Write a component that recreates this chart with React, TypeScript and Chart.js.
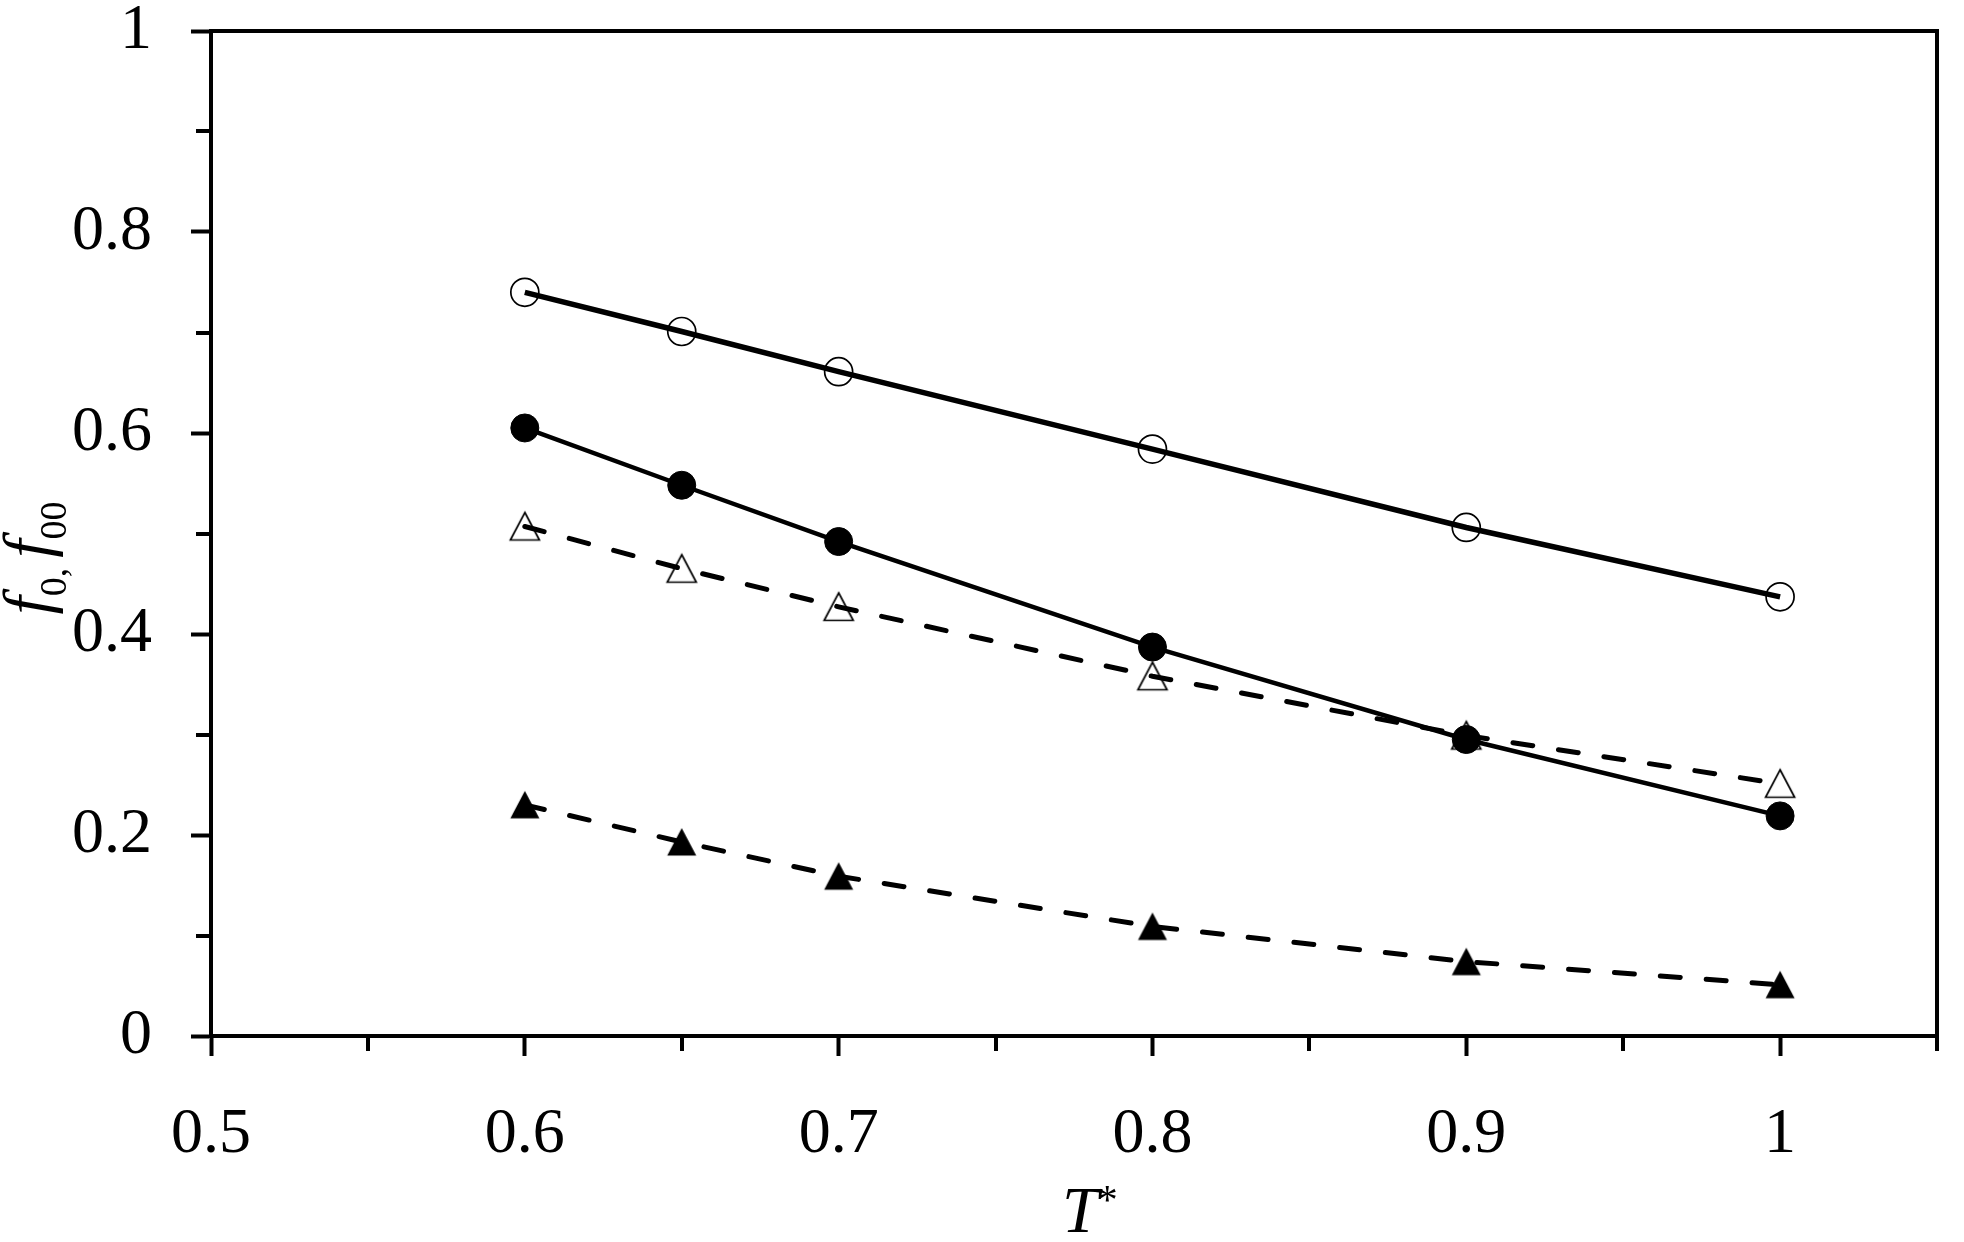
import React, { useEffect, useRef } from "react";
import { Chart, registerables } from "chart.js";

Chart.register(...registerables);

// ---- data ----
const temperatures = [0.6, 0.65, 0.7, 0.8, 0.9, 1.0];
const seriesOpenCircle = [0.74, 0.701, 0.661, 0.584, 0.506, 0.437];
const seriesFilledCircle = [0.605, 0.548, 0.492, 0.387, 0.295, 0.219];
const seriesOpenTriangle = [0.507, 0.465, 0.427, 0.358, 0.299, 0.251];
const seriesFilledTriangle = [0.23, 0.193, 0.159, 0.109, 0.074, 0.051];

const xTickValues = [0.5, 0.6, 0.7, 0.8, 0.9, 1.0];
const xTickLabels = ["0.5", "0.6", "0.7", "0.8", "0.9", "1"];
const xMinorTicks = [0.55, 0.65, 0.75, 0.85, 0.95, 1.05];
const yTickValues = [0, 0.2, 0.4, 0.6, 0.8, 1];
const yTickLabels = ["0", "0.2", "0.4", "0.6", "0.8", "1"];
const yMinorTicks = [0.1, 0.3, 0.5, 0.7, 0.9];

const FONT = "'Liberation Serif', 'Times New Roman', serif";

function makeTriangle(filled: boolean): HTMLCanvasElement {
  const c = document.createElement("canvas");
  c.width = 34;
  c.height = 34;
  const g = c.getContext("2d")!;
  g.beginPath();
  g.moveTo(17, 3);
  g.lineTo(31.5, 30.5);
  g.lineTo(2.5, 30.5);
  g.closePath();
  if (filled) {
    g.fillStyle = "#000";
    g.fill();
  } else {
    g.lineWidth = 1.7;
    g.strokeStyle = "#000";
    g.lineJoin = "miter";
    g.stroke();
  }
  return c;
}

const decorPlugin = {
  id: "decor",
  afterDraw(chart: any) {
    const { ctx, chartArea, scales } = chart;
    const xs = scales.x;
    const ys = scales.y;
    ctx.save();
    ctx.strokeStyle = "#000";
    ctx.lineWidth = 4;
    ctx.lineCap = "butt";
    ctx.lineJoin = "miter";
    // top and right border
    ctx.beginPath();
    ctx.moveTo(chartArea.left - 2, chartArea.top);
    ctx.lineTo(chartArea.right, chartArea.top);
    ctx.lineTo(chartArea.right, chartArea.bottom);
    ctx.stroke();
    // minor ticks
    ctx.beginPath();
    for (const v of xMinorTicks) {
      const px = Math.round(xs.getPixelForValue(v));
      ctx.moveTo(px, chartArea.bottom);
      ctx.lineTo(px, chartArea.bottom + 15);
    }
    for (const v of yMinorTicks) {
      const py = Math.round(ys.getPixelForValue(v));
      ctx.moveTo(chartArea.left, py);
      ctx.lineTo(chartArea.left - 15, py);
    }
    ctx.stroke();

    // x title: T*
    ctx.fillStyle = "#000";
    ctx.textBaseline = "alphabetic";
    ctx.textAlign = "left";
    ctx.font = `italic 66px ${FONT}`;
    const tx = 1062;
    ctx.fillText("T", tx, 1232);
    const tw = ctx.measureText("T").width;
    ctx.font = `42px ${FONT}`;
    ctx.fillText("*", tx + tw - 2, 1214);

    // y title: f0, f00 (rotated)
    const parts = [
      { t: "f", f: `italic 66px ${FONT}`, dy: 0, adv: 0 },
      { t: "0", f: `38px ${FONT}`, dy: 17, adv: 0 },
      { t: ",", f: `38px ${FONT}`, dy: 17, adv: 10 },
      { t: "f", f: `italic 66px ${FONT}`, dy: 0, adv: 0 },
      { t: "00", f: `38px ${FONT}`, dy: 17, adv: 0 },
    ];
    let total = 0;
    const widths: number[] = [];
    for (const p of parts) {
      ctx.font = p.f;
      const w = ctx.measureText(p.t).width + p.adv;
      widths.push(w);
      total += w;
    }
    ctx.save();
    ctx.translate(49, 558);
    ctx.rotate(-Math.PI / 2);
    let cx = -total / 2;
    parts.forEach((p, i) => {
      ctx.font = p.f;
      ctx.fillText(p.t, cx, p.dy);
      cx += widths[i];
    });
    ctx.restore();
    ctx.restore();
  },
};

export default function App() {
  const canvasRef = useRef<HTMLCanvasElement | null>(null);

  useEffect(() => {
    const canvas = canvasRef.current;
    if (!canvas) return;
    const openTri = makeTriangle(false);
    const filledTri = makeTriangle(true);
    const toPts = (ys: number[]) => temperatures.map((x, i) => ({ x, y: ys[i] }));

    const chart = new Chart(canvas, {
      type: "scatter",
      data: {
        datasets: [
          {
            label: "f0 open",
            data: toPts(seriesOpenCircle),
            showLine: true,
            borderColor: "#000",
            borderWidth: 5.5,
            pointStyle: "circle",
            pointRadius: 14,
            pointBorderWidth: 1.7,
            pointBorderColor: "#000",
            pointBackgroundColor: "rgba(0,0,0,0)",
          },
          {
            label: "f0 filled",
            data: toPts(seriesFilledCircle),
            showLine: true,
            borderColor: "#000",
            borderWidth: 4.5,
            pointStyle: "circle",
            pointRadius: 14,
            pointBorderWidth: 1,
            pointBorderColor: "#000",
            pointBackgroundColor: "#000",
          },
          {
            label: "f00 open",
            data: toPts(seriesOpenTriangle),
            showLine: true,
            borderColor: "#000",
            borderWidth: 5,
            borderDash: [20, 26],
            borderCapStyle: "round",
            pointStyle: openTri,
            pointRadius: 14,
          },
          {
            label: "f00 filled",
            data: toPts(seriesFilledTriangle),
            showLine: true,
            borderColor: "#000",
            borderWidth: 5,
            borderDash: [20, 26],
            borderCapStyle: "round",
            pointStyle: filledTri,
            pointRadius: 14,
          },
        ],
      },
      options: {
        responsive: false,
        animation: false,
        devicePixelRatio: 1,
        layout: { padding: { top: 31, right: 27, left: 0, bottom: 0 } },
        plugins: {
          legend: { display: false },
          tooltip: { enabled: false },
          title: { display: false },
        },
        elements: { line: { tension: 0 } },
        scales: {
          x: {
            type: "linear",
            min: 0.5,
            max: 1.05,
            afterBuildTicks: (s: any) => {
              s.ticks = xTickValues.map((v) => ({ value: v }));
            },
            afterFit: (s: any) => {
              s.height = 206;
              s.paddingLeft = 0;
              s.paddingRight = 0;
            },
            ticks: {
              autoSkip: false,
              maxRotation: 0,
              color: "#000",
              padding: 41,
              font: { family: FONT, size: 64 },
              callback: (_v: any, i: number) => xTickLabels[i],
            },
            grid: {
              drawOnChartArea: false,
              drawTicks: true,
              tickLength: 20,
              tickWidth: 4,
              tickColor: "#000",
            },
            border: { display: true, color: "#000", width: 4 },
          },
          y: {
            type: "linear",
            min: 0,
            max: 1,
            afterBuildTicks: (s: any) => {
              s.ticks = yTickValues.map((v) => ({ value: v }));
            },
            afterFit: (s: any) => {
              s.width = 211;
              s.paddingTop = 0;
              s.paddingBottom = 0;
            },
            ticks: {
              autoSkip: false,
              color: "#000",
              padding: 39,
              font: { family: FONT, size: 64 },
              callback: (_v: any, i: number) => yTickLabels[i],
            },
            grid: {
              drawOnChartArea: false,
              drawTicks: true,
              tickLength: 20,
              tickWidth: 4,
              tickColor: "#000",
            },
            border: { display: true, color: "#000", width: 4 },
          },
        },
      },
      plugins: [decorPlugin],
    } as any);

    return () => chart.destroy();
  }, []);

  return (
    <div style={{ position: "fixed", left: 0, top: 0, width: 1964, height: 1242, background: "#fff" }}>
      <canvas ref={canvasRef} width={1964} height={1242} style={{ display: "block" }} />
    </div>
  );
}
